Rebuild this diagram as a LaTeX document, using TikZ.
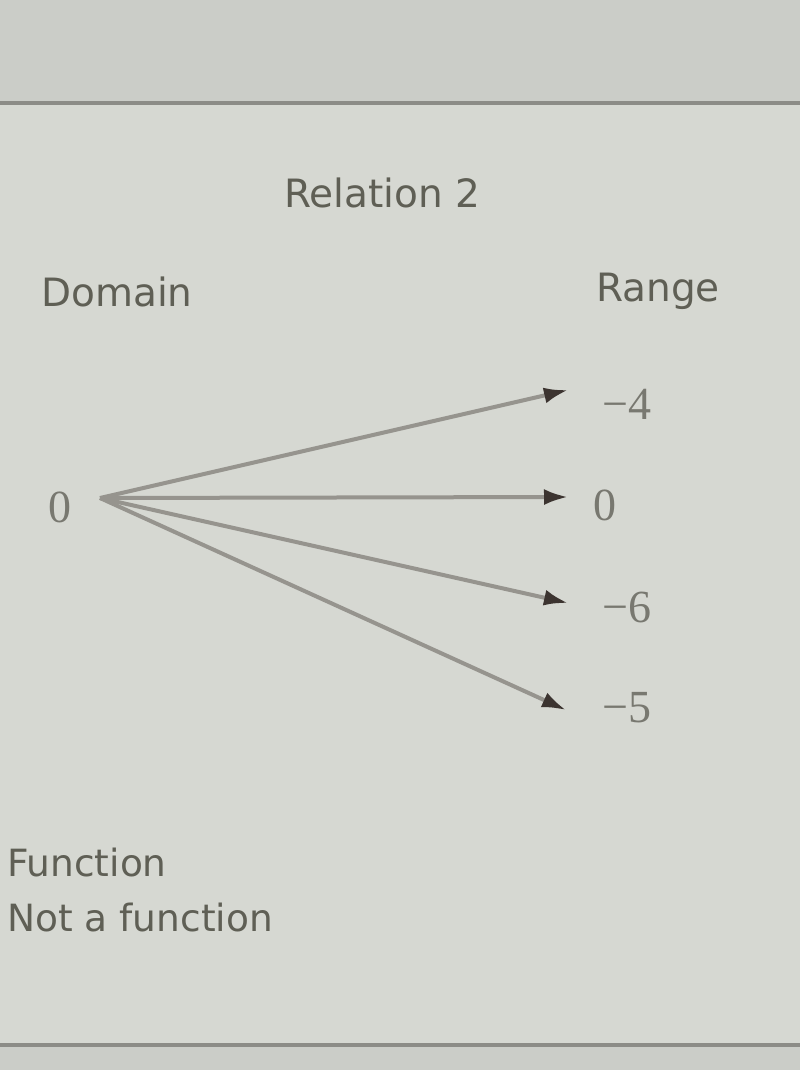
\documentclass[tikz,border=0pt]{standalone}
\usepackage{fontspec}
\setmainfont{DejaVu Sans}
\newfontfamily\numfont{Liberation Serif}
\usetikzlibrary{arrows.meta}
\definecolor{bg}{RGB}{214,216,210}
\definecolor{bgtop}{RGB}{203,205,200}
\definecolor{rule}{RGB}{140,140,135}
\definecolor{txt}{RGB}{95,95,85}
\definecolor{numc}{RGB}{120,120,112}
\definecolor{arr}{RGB}{150,148,142}
\definecolor{head}{RGB}{60,52,48}
\tikzset{
  lbl/.style={text=txt, font=\fontsize{39}{44}\selectfont, inner sep=0pt},
  num/.style={text=numc, font=\numfont\fontsize{46}{48}\selectfont, inner sep=0pt},
  opt/.style={text=txt, font=\fontsize{37.5}{42}\selectfont, inner sep=0pt, anchor=west},
  maparrow/.style={draw=arr, line width=4pt, -{Latex[length=24pt,width=16pt,color=head]}, shorten >=0pt}
}
\begin{document}
\begin{tikzpicture}[x=1pt,y=-1pt]
\useasboundingbox (0,0) rectangle (800,1070);
\fill[bg] (0,0) rectangle (800,1070);
\fill[bgtop] (0,0) rectangle (800,102);
\draw[rule, line width=4pt] (0,103) -- (800,103);
\draw[rule, line width=4pt] (0,1045) -- (800,1045);
\fill[bgtop] (0,1047) rectangle (800,1070);

\node[lbl] (title) at (382,193) {Relation 2};
\node[lbl] (dom) at (117,292) {Domain};
\node[lbl] (ran) at (658,291) {Range};

\node[num] (d0) at (60,507) {0};
\node[num] (rm4) at (627,404) {−4};
\node[num] (r0) at (605,505) {0};
\node[num] (rm6) at (627,607) {−6};
\node[num] (rm5) at (627,708) {−5};

\coordinate (s) at (100,498);
\coordinate (e1) at (568,390);
\coordinate (e2) at (568,497);
\coordinate (e3) at (568,603);
\coordinate (e4) at (566,710);
\draw[maparrow] (s) -- (e1);
\draw[maparrow] (s) -- (e2);
\draw[maparrow] (s) -- (e3);
\draw[maparrow] (s) -- (e4);

\node[opt] (f) at (7,863) {Function};
\node[opt] (nf) at (7,918) {Not a function};
\end{tikzpicture}
\end{document}
